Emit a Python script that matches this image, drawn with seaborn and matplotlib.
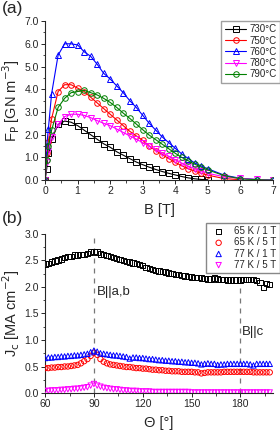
import numpy as np
import matplotlib
matplotlib.use("Agg")
import matplotlib.pyplot as plt
import seaborn as sns
from matplotlib.ticker import MultipleLocator, FormatStrFormatter

nan = np.nan

# ---- panel (a): pinning force vs field ----
field_T = [0, 0.05, 0.1, 0.2, 0.4, 0.6, 0.8, 1.0, 1.2, 1.4, 1.6, 1.8, 2.0, 2.2, 2.4, 2.6,
           2.8, 3.0, 3.2, 3.4, 3.6, 3.8, 4.0, 4.2, 4.4, 4.6, 4.8, 5.0, 5.5, 6.0, 6.5, 7.0]

fp_730 = [0.0, 0.5, 1.2, 1.8, 2.45, 2.6, 2.55, 2.4, 2.2, 2.0, 1.8, 1.6, 1.45, 1.25, 1.1, 0.95,
          0.8, 0.68, 0.57, 0.47, 0.38, 0.3, 0.23, 0.16, 0.1, 0.06, 0.03, 0.02, nan, nan, nan, nan]
fp_750 = [0.0, 1.2, 1.7, 2.7, 3.9, 4.2, 4.2, 4.05, 3.9, 3.65, 3.4, 3.15, 2.9, 2.65, 2.4, 2.15,
          1.95, 1.75, 1.5, 1.3, 1.12, 0.95, 0.78, 0.63, 0.5, 0.4, 0.3, 0.22, 0.07, 0.02, nan, nan]
fp_760 = [0.0, 1.5, 2.25, 3.8, 5.5, 6.0, 6.0, 5.95, 5.65, 5.45, 5.1, 4.7, 4.45, 4.15, 3.85, 3.5,
          3.2, 2.85, 2.5, 2.2, 1.9, 1.65, 1.4, 1.15, 0.95, 0.75, 0.62, 0.5, 0.22, 0.08, 0.03, 0.01]
fp_780 = [0.0, 0.8, 1.3, 1.9, 2.45, 2.8, 2.9, 2.9, 2.85, 2.75, 2.62, 2.5, 2.4, 2.25, 2.1, 1.95,
          1.8, 1.65, 1.5, 1.35, 1.2, 1.05, 0.9, 0.75, 0.62, 0.5, 0.4, 0.3, 0.15, 0.08, 0.03, 0.0]
fp_790 = [0.0, 0.9, 1.5, 2.2, 3.2, 3.6, 3.85, 3.9, 3.95, 3.85, 3.75, 3.6, 3.42, 3.2, 2.95, 2.72,
          2.47, 2.22, 1.98, 1.78, 1.58, 1.38, 1.18, 1.0, 0.85, 0.7, 0.57, 0.45, 0.2, 0.06, 0.02, 0.0]

temp_labels = ["730°C", "750°C", "760°C", "780°C", "790°C"]
fp_series = [fp_730, fp_750, fp_760, fp_780, fp_790]

# ---- panel (b): Jc vs angle ----
theta_deg = [60, 62, 64, 66, 68, 70, 72, 74, 76, 78, 80, 82, 84, 86, 88, 90, 92, 94, 96, 98,
             100, 102, 104, 106, 108, 110, 112, 114, 116, 118, 120, 122, 124, 126, 128, 130,
             132, 134, 136, 138, 140, 142, 144, 146, 148, 150, 152, 154, 156, 158, 160, 162,
             164, 166, 168, 170, 172, 174, 176, 178, 180, 182, 184, 186, 188, 190, 192, 194,
             196, 198]

jc_65k_1t = [2.43, 2.44, 2.47, 2.49, 2.51, 2.53, 2.55, 2.57, 2.58, 2.60, 2.60, 2.61, 2.61, 2.63,
             2.66, 2.67, 2.66, 2.62, 2.61, 2.59, 2.57, 2.55, 2.54, 2.52, 2.50, 2.48, 2.47, 2.45,
             2.44, 2.42, 2.40, 2.37, 2.35, 2.33, 2.31, 2.30, 2.29, 2.28, 2.26, 2.25, 2.24, 2.23,
             2.22, 2.21, 2.20, 2.19, 2.18, 2.18, 2.17, 2.16, 2.15, 2.15, 2.17, 2.15, 2.14, 2.14,
             2.13, 2.13, 2.13, 2.13, 2.13, 2.14, 2.14, 2.14, 2.14, 2.12, 2.08, 1.99, 2.06, 2.05]
jc_65k_5t = [0.47, 0.47, 0.48, 0.48, 0.49, 0.49, 0.50, 0.50, 0.51, 0.52, 0.53, 0.56, 0.60, 0.64,
             0.70, 0.76, 0.72, 0.64, 0.59, 0.56, 0.54, 0.53, 0.52, 0.51, 0.50, 0.49, 0.49, 0.48,
             0.47, 0.47, 0.46, 0.46, 0.45, 0.44, 0.44, 0.43, 0.43, 0.42, 0.42, 0.41, 0.41, 0.41,
             0.40, 0.40, 0.40, 0.40, 0.39, 0.39, 0.37, 0.38, 0.39, 0.39, 0.39, 0.39, 0.39, 0.40,
             0.40, 0.40, 0.40, 0.40, 0.40, 0.40, 0.40, 0.40, 0.39, 0.39, 0.39, 0.39, 0.39, 0.39]
jc_77k_1t = [0.66, 0.67, 0.67, 0.68, 0.68, 0.69, 0.69, 0.70, 0.70, 0.71, 0.71, 0.72, 0.73, 0.74,
             0.77, 0.80, 0.78, 0.75, 0.74, 0.73, 0.72, 0.71, 0.71, 0.70, 0.69, 0.68, 0.65, 0.67,
             0.67, 0.66, 0.66, 0.65, 0.64, 0.64, 0.63, 0.62, 0.62, 0.61, 0.61, 0.60, 0.60, 0.59,
             0.59, 0.58, 0.58, 0.57, 0.57, 0.56, 0.54, 0.55, 0.56, 0.55, 0.55, 0.53, 0.54, 0.54,
             0.55, 0.55, 0.55, 0.55, 0.55, 0.55, 0.55, 0.54, 0.52, 0.55, 0.55, 0.55, 0.55, 0.55]
jc_77k_5t = [0.04, 0.04, 0.05, 0.05, 0.05, 0.06, 0.06, 0.07, 0.07, 0.08, 0.08, 0.09, 0.10, 0.11,
             0.14, 0.17, 0.14, 0.12, 0.10, 0.09, 0.08, 0.07, 0.07, 0.06, 0.05, 0.05, 0.04, 0.04,
             0.04, 0.03, 0.03, 0.03, 0.03, 0.02, 0.02, 0.02, 0.02, 0.02, 0.02, 0.02, 0.02, 0.02,
             0.02, 0.02, 0.02, 0.01, 0.01, 0.01, 0.01, 0.01, 0.01, 0.01, 0.01, 0.01, 0.01, 0.01,
             0.01, 0.01, 0.01, 0.01, 0.01, 0.01, 0.01, 0.01, 0.01, 0.01, 0.01, 0.01, 0.01, 0.01]

jc_labels = ["65 K / 1 T", "65 K / 5 T", "77 K / 1 T", "77 K / 5 T"]
jc_series = [jc_65k_1t, jc_65k_5t, jc_77k_1t, jc_77k_5t]

colors = ["#000000", "#ff0000", "#0000ff", "#ff00ff", "#008000"]
markers_a = ["s", "o", "^", "v", "o"]
markers_b = ["s", "o", "^", "v"]

sns.set_style("ticks")
plt.rcParams["font.family"] = ["Liberation Sans", "DejaVu Sans"]
plt.rcParams["axes.linewidth"] = 0.8

fig = plt.figure(figsize=(2.8, 4.3), dpi=100)
ax_a = fig.add_axes([0.161, 0.581, 0.814, 0.370])
ax_b = fig.add_axes([0.161, 0.086, 0.814, 0.370])

# panel (a)
for vals, lab, c, m in zip(fp_series, temp_labels, colors, markers_a):
    sns.lineplot(x=field_T, y=vals, ax=ax_a, color=c, marker=m, markersize=4,
                 markerfacecolor="none", markeredgecolor=c, markeredgewidth=0.7,
                 linewidth=0.8, label=lab)

ax_a.set_xlim(0, 7)
ax_a.set_ylim(0, 7)
ax_a.xaxis.set_major_locator(MultipleLocator(1))
ax_a.xaxis.set_minor_locator(MultipleLocator(0.5))
ax_a.yaxis.set_major_locator(MultipleLocator(1))
ax_a.yaxis.set_minor_locator(MultipleLocator(0.5))
ax_a.yaxis.set_major_formatter(FormatStrFormatter("%.1f"))
ax_a.set_xlabel("B [T]", fontsize=10.5, labelpad=5)
ax_a.set_ylabel(r"F$_\mathrm{P}$ [GN m$^{-3}$]", fontsize=10.5, labelpad=2)
ax_a.legend(loc="upper right", bbox_to_anchor=(1.03, 1.0), fontsize=7, frameon=True,
            fancybox=False, edgecolor="#888888", handlelength=2.2, handletextpad=0.3,
            borderpad=0.35, labelspacing=0.12, borderaxespad=0.0)

# panel (b)
for vals, lab, c, m in zip(jc_series, jc_labels, colors, markers_b):
    sns.scatterplot(x=theta_deg, y=vals, ax=ax_b, marker=m, s=15, color=c,
                    facecolor="none", edgecolor=c, linewidth=0.7, label=lab, zorder=3)

for xv in [90, 180]:
    ax_b.axvline(xv, color="#777777", linestyle=(0, (4, 4)), linewidth=0.9, zorder=1)
ax_b.text(92, 1.9, "B||a,b", fontsize=9.5, va="center", ha="left")
ax_b.text(181, 1.15, "B||c", fontsize=9.5, va="center", ha="left")

ax_b.set_xlim(60, 200)
ax_b.set_ylim(0, 3)
ax_b.xaxis.set_major_locator(MultipleLocator(30))
ax_b.xaxis.set_minor_locator(MultipleLocator(15))
ax_b.yaxis.set_major_locator(MultipleLocator(0.5))
ax_b.yaxis.set_minor_locator(MultipleLocator(0.25))
ax_b.yaxis.set_major_formatter(FormatStrFormatter("%.1f"))
ax_b.set_xlabel("Θ [°]", fontsize=10.5, labelpad=5)
ax_b.set_ylabel(r"J$_\mathrm{c}$ [MA cm$^{-2}$]", fontsize=10.5, labelpad=2)
leg_b = ax_b.legend(loc="upper right", bbox_to_anchor=(1.03, 1.07), fontsize=7, frameon=True,
                    fancybox=False, edgecolor="#888888", handletextpad=0.6, markerscale=1.0,
                    borderpad=0.35, labelspacing=0.12, borderaxespad=0.0)
leg_b.get_frame().set_alpha(1.0)

for ax in (ax_a, ax_b):
    sns.despine(ax=ax)
    ax.tick_params(which="major", direction="out", length=3, width=0.7, labelsize=7.5, pad=1.5)
    ax.tick_params(which="minor", direction="out", length=1.8, width=0.6)

fig.text(0.005, 0.998, "(a)", fontsize=12.5, va="top", ha="left")
fig.text(0.005, 0.51, "(b)", fontsize=12.5, va="top", ha="left")

fig.savefig("out.png", dpi=100)
